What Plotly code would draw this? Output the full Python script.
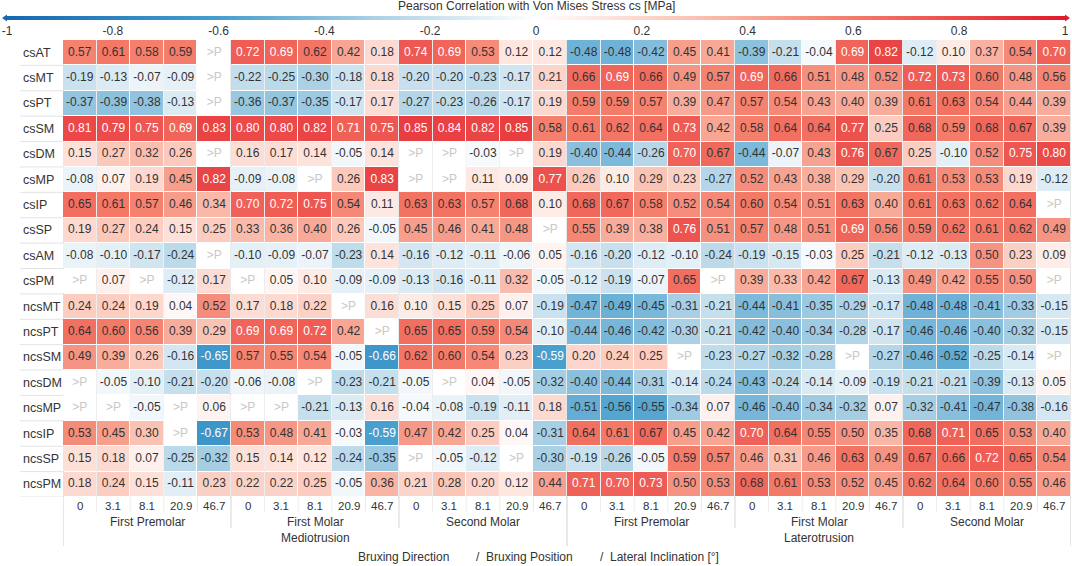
import plotly.graph_objects as go

# Categories
row_names = ["csAT", "csMT", "csPT", "csSM", "csDM", "csMP", "csIP", "csSP", "csAM", "csPM",
             "ncsMT", "ncsPT", "ncsSM", "ncsDM", "ncsMP", "ncsIP", "ncsSP", "ncsPM"]
directions = ["Mediotrusion", "Laterotrusion"]
teeth = ["First Premolar", "First Molar", "Second Molar"]
inclinations = ["0", "3.1", "8.1", "20.9", "46.7"]
cbar_ticks = [-1, -0.8, -0.6, -0.4, -0.2, 0, 0.2, 0.4, 0.6, 0.8, 1]

# Correlation values, None = ">P" (not significant)
# column order: Mediotrusion (FPM, FM, SM) then Laterotrusion (FPM, FM, SM), 5 inclinations each
cs_at = [0.57, 0.61, 0.58, 0.59, None, 0.72, 0.69, 0.62, 0.42, 0.18, 0.74, 0.69, 0.53, 0.12, 0.12,
         -0.48, -0.48, -0.42, 0.45, 0.41, -0.39, -0.21, -0.04, 0.69, 0.82, -0.12, 0.10, 0.37, 0.54, 0.70]
cs_mt = [-0.19, -0.13, -0.07, -0.09, None, -0.22, -0.25, -0.30, -0.18, 0.18, -0.20, -0.20, -0.23, -0.17, 0.21,
         0.66, 0.69, 0.66, 0.49, 0.57, 0.69, 0.66, 0.51, 0.48, 0.52, 0.72, 0.73, 0.60, 0.48, 0.56]
cs_pt = [-0.37, -0.39, -0.38, -0.13, None, -0.36, -0.37, -0.35, -0.17, 0.17, -0.27, -0.23, -0.26, -0.17, 0.19,
         0.59, 0.59, 0.57, 0.39, 0.47, 0.57, 0.54, 0.43, 0.40, 0.39, 0.61, 0.63, 0.54, 0.44, 0.39]
cs_sm = [0.81, 0.79, 0.75, 0.69, 0.83, 0.80, 0.80, 0.82, 0.71, 0.75, 0.85, 0.84, 0.82, 0.85, 0.58,
         0.61, 0.62, 0.64, 0.73, 0.42, 0.58, 0.64, 0.64, 0.77, 0.25, 0.68, 0.59, 0.68, 0.67, 0.39]
cs_dm = [0.15, 0.27, 0.32, 0.26, None, 0.16, 0.17, 0.14, -0.05, 0.14, None, None, -0.03, None, 0.19,
         -0.40, -0.44, -0.26, 0.70, 0.67, -0.44, -0.07, 0.43, 0.76, 0.67, 0.25, -0.10, 0.52, 0.75, 0.80]
cs_mp = [-0.08, 0.07, 0.19, 0.45, 0.82, -0.09, -0.08, None, 0.26, 0.83, None, None, 0.11, 0.09, 0.77,
         0.26, 0.10, 0.29, 0.23, -0.27, 0.52, 0.43, 0.38, 0.29, -0.20, 0.61, 0.53, 0.53, 0.19, -0.12]
cs_ip = [0.65, 0.61, 0.57, 0.46, 0.34, 0.70, 0.72, 0.75, 0.54, 0.11, 0.63, 0.63, 0.57, 0.68, 0.10,
         0.68, 0.67, 0.58, 0.52, 0.54, 0.60, 0.54, 0.51, 0.63, 0.40, 0.61, 0.63, 0.62, 0.64, None]
cs_sp = [0.19, 0.27, 0.24, 0.15, 0.25, 0.33, 0.36, 0.40, 0.26, -0.05, 0.45, 0.46, 0.41, 0.48, None,
         0.55, 0.39, 0.38, 0.76, 0.51, 0.57, 0.48, 0.51, 0.69, 0.56, 0.59, 0.62, 0.61, 0.62, 0.49]
cs_am = [-0.08, -0.10, -0.17, -0.24, None, -0.10, -0.09, -0.07, -0.23, 0.14, -0.16, -0.12, -0.11, -0.06, 0.05,
         -0.16, -0.20, -0.12, -0.10, -0.24, -0.19, -0.15, -0.03, 0.25, -0.21, -0.12, -0.13, 0.50, 0.23, 0.09]
cs_pm = [None, 0.07, None, -0.12, 0.17, None, 0.05, 0.10, -0.09, -0.09, -0.13, -0.16, -0.11, 0.32, -0.05,
         -0.12, -0.19, -0.07, 0.65, None, 0.39, 0.33, 0.42, 0.67, -0.13, 0.49, 0.42, 0.55, 0.50, None]
ncs_mt = [0.24, 0.24, 0.19, 0.04, 0.52, 0.17, 0.18, 0.22, None, 0.16, 0.10, 0.15, 0.25, 0.07, -0.19,
          -0.47, -0.49, -0.45, -0.31, -0.21, -0.44, -0.41, -0.35, -0.29, -0.17, -0.48, -0.48, -0.41, -0.33, -0.15]
ncs_pt = [0.64, 0.60, 0.56, 0.39, 0.29, 0.69, 0.69, 0.72, 0.42, None, 0.65, 0.65, 0.59, 0.54, -0.10,
          -0.44, -0.46, -0.42, -0.30, -0.21, -0.42, -0.40, -0.34, -0.28, -0.17, -0.46, -0.46, -0.40, -0.32, -0.15]
ncs_sm = [0.49, 0.39, 0.26, -0.16, -0.65, 0.57, 0.55, 0.54, -0.05, -0.66, 0.62, 0.60, 0.54, 0.23, -0.59,
          0.20, 0.24, 0.25, None, -0.23, -0.27, -0.32, -0.28, None, -0.27, -0.46, -0.52, -0.25, -0.14, None]
ncs_dm = [None, -0.05, -0.10, -0.21, -0.20, -0.06, -0.08, None, -0.23, -0.21, -0.05, None, 0.04, -0.05, -0.32,
          -0.40, -0.44, -0.31, -0.14, -0.24, -0.43, -0.24, -0.14, -0.09, -0.19, -0.21, -0.21, -0.39, -0.13, 0.05]
ncs_mp = [None, None, -0.05, None, 0.06, None, None, -0.21, -0.13, 0.16, -0.04, -0.08, -0.19, -0.11, 0.18,
          -0.51, -0.56, -0.55, -0.34, 0.07, -0.46, -0.40, -0.34, -0.32, 0.07, -0.32, -0.41, -0.47, -0.38, -0.16]
ncs_ip = [0.53, 0.45, 0.30, None, -0.67, 0.53, 0.48, 0.41, -0.03, -0.59, 0.47, 0.42, 0.25, 0.04, -0.31,
          0.64, 0.61, 0.67, 0.45, 0.42, 0.70, 0.64, 0.55, 0.50, 0.35, 0.68, 0.71, 0.65, 0.53, 0.40]
ncs_sp = [0.15, 0.18, 0.07, -0.25, -0.32, 0.15, 0.14, 0.12, -0.24, -0.35, None, -0.05, -0.12, None, -0.30,
          -0.19, -0.26, -0.05, 0.59, 0.57, 0.46, 0.31, 0.46, 0.63, 0.49, 0.67, 0.66, 0.72, 0.65, 0.54]
ncs_pm = [0.18, 0.24, 0.15, -0.11, 0.23, 0.22, 0.22, 0.25, -0.05, 0.36, 0.21, 0.28, 0.20, 0.12, 0.44,
          0.71, 0.70, 0.73, 0.50, 0.53, 0.68, 0.61, 0.53, 0.52, 0.45, 0.62, 0.64, 0.60, 0.55, 0.46]

rows = [cs_at, cs_mt, cs_pt, cs_sm, cs_dm, cs_mp, cs_ip, cs_sp, cs_am, cs_pm,
        ncs_mt, ncs_pt, ncs_sm, ncs_dm, ncs_mp, ncs_ip, ncs_sp, ncs_pm]

n_cols = len(directions) * len(teeth) * len(inclinations)
col_idx = list(range(n_cols))
row_idx = list(range(len(row_names)))

FONT = "Arial, Liberation Sans, sans-serif"
TXT = "#333333"
colorscale = [
    [0.0, "rgb(22,104,176)"],
    [0.2, "rgb(70,158,205)"],
    [0.35, "rgb(172,209,229)"],
    [0.5, "rgb(255,255,255)"],
    [0.65, "rgb(250,194,178)"],
    [0.8, "rgb(244,122,104)"],
    [1.0, "rgb(226,26,42)"],
]


# pixel -> paper helpers (plot area 63..1071 x, 40..497 y)
def px_x(p):
    return (p - 63) / 1008


def px_y(p):
    return (497 - p) / 457


# >P cells are drawn white (z = 0)
z = [[0 if v is None else v for v in r] for r in rows]

fig = go.Figure()
fig.add_trace(go.Heatmap(
    z=z, x=col_idx, y=row_idx, zmin=-1, zmax=1, colorscale=colorscale,
    xgap=1, ygap=1, hoverinfo="skip",
    colorbar=dict(
        orientation="h", thickness=4, lenmode="pixels", len=1058,
        xref="paper", x=px_x(536), xanchor="center",
        yref="paper", y=px_y(16), yanchor="top",
        xpad=0, ypad=0, outlinewidth=0,
        tickvals=cbar_ticks, ticktext=[f"{t:g}" for t in cbar_ticks],
        ticks="", tickfont=dict(size=12, color=TXT, family=FONT),
    ),
))

# cell labels
tx, ty, tt, tc = [], [], [], []
for i, r in enumerate(rows):
    for j, v in enumerate(r):
        tx.append(j)
        ty.append(i)
        if v is None:
            tt.append(">P")
            tc.append("#c8c8c8")
        else:
            tt.append(f"{v:.2f}")
            tc.append("white" if (v >= 0.685 or v <= -0.58) else TXT)
fig.add_trace(go.Scatter(x=tx, y=ty, mode="text", text=tt,
                         textfont=dict(size=12, color=tc, family=FONT),
                         hoverinfo="skip", showlegend=False))

shapes = []
# row separators in the label column
for i in row_idx:
    shapes.append(dict(type="line", xref="paper", yref="y", x0=px_x(20), x1=0,
                       y0=i + 0.5, y1=i + 0.5, line=dict(color="#e3e3e3", width=1)))
# column separators
for j in range(n_cols + 1):
    if j % 15 == 0:
        y0, col = px_y(546), "#cfcfcf"
    elif j % 5 == 0:
        y0, col = px_y(528), "#d6d6d6"
    else:
        y0, col = px_y(512), "#ececec"
    shapes.append(dict(type="line", xref="x", yref="paper", x0=j - 0.5, x1=j - 0.5,
                       y0=y0, y1=1, layer="below", line=dict(color=col, width=1)))
# colorbar end arrows
shapes.append(dict(type="path", xref="paper", yref="paper",
                   path=f"M {px_x(2)},{px_y(18)} L {px_x(7)},{px_y(14.5)} L {px_x(7)},{px_y(21.5)} Z",
                   fillcolor="rgb(22,104,176)", line=dict(width=0)))
shapes.append(dict(type="path", xref="paper", yref="paper",
                   path=f"M {px_x(1070)},{px_y(18)} L {px_x(1065)},{px_y(14.5)} L {px_x(1065)},{px_y(21.5)} Z",
                   fillcolor="rgb(226,26,42)", line=dict(width=0)))

annotations = []
# colorbar title
annotations.append(dict(text="Pearson Correlation with Von Mises Stress cs [MPa]", xref="paper", yref="paper",
                        x=px_x(536), y=px_y(6), showarrow=False, xanchor="center", yanchor="middle",
                        font=dict(size=12, color=TXT, family=FONT)))
# row labels
for i, name in enumerate(row_names):
    annotations.append(dict(text=name, xref="paper", yref="y", x=px_x(21), y=i, showarrow=False,
                            xanchor="left", yanchor="middle", font=dict(size=12.5, color=TXT, family=FONT)))
# inclination labels
for j in col_idx:
    annotations.append(dict(text=inclinations[j % 5], xref="x", yref="paper", x=j, y=px_y(506),
                            showarrow=False, yanchor="middle", font=dict(size=11.5, color=TXT, family=FONT)))
# teeth labels
for k in range(len(directions) * len(teeth)):
    annotations.append(dict(text=teeth[k % 3], xref="x", yref="paper", x=k * 5 + 2, y=px_y(522),
                            showarrow=False, yanchor="middle", font=dict(size=12, color=TXT, family=FONT)))
# direction labels
for d, name in enumerate(directions):
    annotations.append(dict(text=name, xref="x", yref="paper", x=d * 15 + 7, y=px_y(538),
                            showarrow=False, yanchor="middle", font=dict(size=12, color=TXT, family=FONT)))
# header legend
for txt, xp in [("Bruxing Direction", 356), ("/  Bruxing Position", 474), ("/  Lateral Inclination [°]", 598)]:
    annotations.append(dict(text=txt, xref="paper", yref="paper", x=px_x(xp), y=px_y(557), showarrow=False,
                            xanchor="left", yanchor="middle", font=dict(size=12, color=TXT, family=FONT)))

fig.update_layout(
    width=1072, height=566,
    margin=dict(l=63, r=1, t=40, b=69),
    plot_bgcolor="white", paper_bgcolor="white",
    xaxis=dict(range=[-0.5, n_cols - 0.5], showticklabels=False, showgrid=False, zeroline=False, fixedrange=True),
    yaxis=dict(range=[len(row_names) - 0.5, -0.5], showticklabels=False, showgrid=False, zeroline=False,
               fixedrange=True),
    shapes=shapes, annotations=annotations,
    font=dict(family=FONT, color=TXT),
    showlegend=False,
)

# page margin off so the 1072x566 figure fills the window exactly
fig.write_html("out.html", config={"displayModeBar": False},
               post_script="document.body.style.margin='0';document.body.style.overflow='hidden';")
